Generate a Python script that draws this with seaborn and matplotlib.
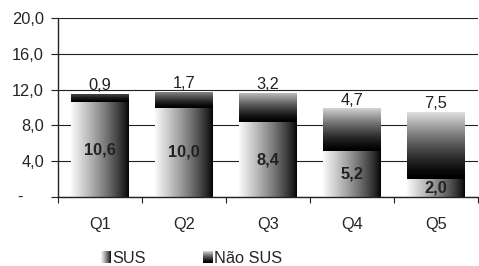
import matplotlib
matplotlib.use("Agg")
import matplotlib.pyplot as plt
import seaborn as sns
import numpy as np
import pandas as pd
from matplotlib.legend_handler import HandlerBase
from matplotlib.patches import Rectangle
from matplotlib.image import BboxImage
from matplotlib.transforms import Bbox, TransformedBbox

quintis = ["Q1", "Q2", "Q3", "Q4", "Q5"]
sus = [10.6, 10.0, 8.4, 5.2, 2.0]
nao_sus = [0.9, 1.7, 3.2, 4.7, 7.5]
yticks = [0, 4, 8, 12, 16, 20]

sns.set_style("white")
plt.rcParams["font.family"] = ["Liberation Sans", "DejaVu Sans"]
FS = 11.8

df = pd.DataFrame({"quintil": quintis, "sus": sus, "nao_sus": nao_sus})
df["total"] = df.sus + df.nao_sus

fig = plt.figure(figsize=(4.79, 2.66), dpi=100)
ax = fig.add_axes([0.121, 0.259, 0.877, 0.673])

sns.barplot(data=df, x="quintil", y="total", color="gray", width=0.68, ax=ax, zorder=2)
sns.barplot(data=df, x="quintil", y="sus", color="gray", width=0.68, ax=ax, zorder=2)

# gradientes
hgrad = np.linspace(0.97, 0.0, 256)[None, :] ** 0.8
n = len(quintis)
for i, p in enumerate(ax.patches):
    x0, y0 = p.get_x(), p.get_y()
    w, h = p.get_width(), p.get_height()
    p.set_facecolor("none")
    p.set_edgecolor("none")
    if i < n:
        seg = nao_sus[i]
        top = 0.92 * (1 - np.exp(-seg / 2.0))
        data = top * np.linspace(1, 0, 256)[:, None] ** 1.4
        y0, h = sus[i], seg
    else:
        data = hgrad
    im = ax.imshow(data, cmap="gray", vmin=0, vmax=1, aspect="auto",
                   extent=[x0, x0 + w, y0, y0 + h], zorder=2, interpolation="bilinear")
    im.set_clip_path(p)

ax.set_xlim(-0.5, 4.5)
ax.set_ylim(0, 20)
ax.set_yticks(yticks)
ax.set_yticklabels(["" if v == 0 else f"{v:.1f}".replace(".", ",") for v in yticks], fontsize=FS)
ax.text(-0.097, 0, "-", transform=ax.get_yaxis_transform(), ha="left", va="center", fontsize=FS)
ax.grid(axis="y", color="#222222", lw=0.8, zorder=0)
ax.set_axisbelow(True)
ax.tick_params(axis="y", length=5, width=0.8, color="#222222", pad=5, left=True)
ax.tick_params(axis="x", which="major", length=0, labelsize=FS, pad=14)
ax.set_xticks(np.arange(-0.5, 5, 1), minor=True)
ax.tick_params(axis="x", which="minor", length=4, width=0.8, color="#222222", bottom=True)
ax.set_xlabel("")
ax.set_ylabel("")
for s in ["top", "right"]:
    ax.spines[s].set_visible(False)
for s in ["left", "bottom"]:
    ax.spines[s].set_color("#222222")
    ax.spines[s].set_linewidth(1.0)

for i in range(n):
    ax.text(i, sus[i] / 2, f"{sus[i]:.1f}".replace(".", ","), ha="center", va="center",
            fontsize=FS, fontweight="bold", color="#222222", zorder=5)
    ax.text(i, sus[i] + nao_sus[i] + 0.1, f"{nao_sus[i]:.1f}".replace(".", ","),
            ha="center", va="bottom", fontsize=FS, color="#222222", zorder=5)


class GradHandler(HandlerBase):
    def __init__(self, data):
        super().__init__()
        self.data = data

    def create_artists(self, legend, orig_handle, xdescent, ydescent, width, height, fontsize, trans):
        bb = Bbox.from_bounds(-xdescent + width - 6.5, -ydescent, 6.5, height)
        img = BboxImage(TransformedBbox(bb, trans), cmap="gray", norm=plt.Normalize(0, 1),
                        interpolation="bilinear")
        img.set_data(self.data)
        return [img]


vleg = 0.85 * np.linspace(1, 0, 64)[:, None] ** 1.4
h1 = Rectangle((0, 0), 1, 1)
h2 = Rectangle((0, 0), 1, 1)
fig.legend([h1, h2], ["SUS", "Não SUS"], loc="lower left", bbox_to_anchor=(0.172, -0.055),
           ncol=2, frameon=False, fontsize=FS, handlelength=0.8, handletextpad=0.15,
           columnspacing=3.2,
           handler_map={h1: GradHandler(hgrad), h2: GradHandler(vleg)})

fig.savefig("out.png", dpi=100)
